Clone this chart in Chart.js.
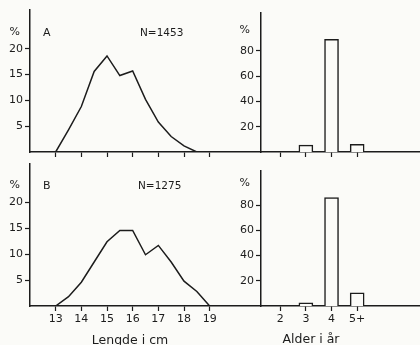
<!DOCTYPE html>
<html>
<head>
<meta charset="utf-8">
<script src="https://cdn.jsdelivr.net/npm/chart.js@4/dist/chart.umd.min.js"></script>
<style>
  body { margin: 0; background: #fbfbf8; }
  #fig { position: relative; width: 420px; height: 345px; overflow: hidden; }
  canvas { position: absolute; }
</style>
</head>
<body>
<div id="fig">
  <canvas id="lenA" width="261" height="165" style="left:0;top:0"></canvas>
  <canvas id="ageA" width="210" height="165" style="left:210px;top:0"></canvas>
  <canvas id="lenB" width="261" height="190" style="left:0;top:155px"></canvas>
  <canvas id="ageB" width="210" height="190" style="left:210px;top:155px"></canvas>
</div>
<script>
// length distribution (percent per half cm)
const lengthCm = [13, 13.5, 14, 14.5, 15, 15.5, 16, 16.5, 17, 17.5, 18, 18.5, 19];
const lengthPctA = [0, 4.3, 8.8, 15.6, 18.6, 14.8, 15.7, 10.2, 5.8, 3.0, 1.2, 0, null];
const lengthPctB = [0, 1.8, 4.6, 8.5, 12.4, 14.6, 14.6, 9.9, 11.7, 8.5, 4.8, 2.8, 0];
const lengthTicks = [13, 14, 15, 16, 17, 18, 19];
const lengthPctTicks = [5, 10, 15, 20];

// age distribution (percent)
const ageX = [2, 3, 4, 5];
const ageLabels = ["2", "3", "4", "5+"];
const agePctA = [0, 5.5, 89.2, 6.1];
const agePctB = [0, 2.6, 86, 10.5];
const agePctTicks = [20, 40, 60, 80];

const ink = "#1c1c1c";
const paper = "#fbfbf8";
const fontFamily = "'DejaVu Sans', sans-serif";

Chart.defaults.font.family = fontFamily;
Chart.defaults.font.size = 11;
Chart.defaults.color = ink;
Chart.defaults.animation = false;

//Free text on a panel: letters, N, % sign and axis captions
const panelText = {
  id: "panelText",
  afterDraw(chart, args, opts) {
    const { ctx, chartArea } = chart;
    ctx.save();
    ctx.fillStyle = ink;
    ctx.textBaseline = "middle";
    (opts.items || []).forEach(t => {
      ctx.font = `${t.size || 11}px ${fontFamily}`;
      ctx.textAlign = t.align || "left";
      ctx.fillText(t.text, chartArea.left + t.dx, chartArea.top + t.dy);
    });
    ctx.restore();
  }
};

const axisStyle = (tickValues) => ({
  offset: false,
  border: { color: ink, width: 1.5 },
  grid: { offset: false, drawOnChartArea: false, color: ink, tickLength: 5, tickWidth: 1.2 },
  afterBuildTicks: axis => { axis.ticks = tickValues.map(v => ({ value: v })); }
});

//Draw the length curve
const drawLengthChart = (id, pct, showLabels, topPad, xHeight, items) => {
  return new Chart(document.getElementById(id), {
    type: "line",
    data: {
      datasets: [{
        data: lengthCm.map((x, i) => ({ x, y: pct[i] })),
        borderColor: ink,
        borderWidth: 1.5,
        pointRadius: 0,
        tension: 0
      }]
    },
    options: {
      responsive: false,
      layout: { padding: { top: topPad, left: 0, right: 0, bottom: 0 } },
      plugins: { legend: { display: false }, tooltip: { enabled: false }, panelText: { items } },
      scales: {
        x: {
          type: "linear", min: 12, max: 21,
          ...axisStyle(lengthTicks),
          ticks: { display: showLabels, padding: 2 },
          afterFit: s => { s.height = xHeight; }
        },
        y: {
          min: 0, max: 27.5,
          ...axisStyle(lengthPctTicks),
          ticks: { padding: 2 },
          afterFit: s => { s.width = 30; }
        }
      }
    },
    plugins: [panelText]
  });
}

//Draw the age bars
const drawAgeChart = (id, pct, yMax, showLabels, topPad, xHeight, items) => {
  return new Chart(document.getElementById(id), {
    type: "bar",
    data: {
      datasets: [{
        data: ageX.map((x, i) => ({ x, y: pct[i] })),
        backgroundColor: paper,
        borderColor: ink,
        borderWidth: 1.5,
        borderSkipped: "bottom",
        barThickness: 14
      }]
    },
    options: {
      responsive: false,
      layout: { padding: { top: topPad, left: 0, right: 0, bottom: 0 } },
      plugins: { legend: { display: false }, tooltip: { enabled: false }, panelText: { items } },
      scales: {
        x: {
          type: "linear", min: 1.25, max: 7.45,
          ...axisStyle(ageX),
          ticks: { display: showLabels, padding: 2, callback: v => ageLabels[ageX.indexOf(v)] },
          afterFit: s => { s.height = xHeight; }
        },
        y: {
          min: 0, max: yMax,
          ...axisStyle(agePctTicks),
          ticks: { padding: 2 },
          afterFit: s => { s.width = 51; }
        }
      }
    },
    plugins: [panelText]
  });
}

drawLengthChart("lenA", lengthPctA, false, 10, 13, [
  { text: "%", dx: -10, dy: 22, align: "right" },
  { text: "A", dx: 13, dy: 23 },
  { text: "N=1453", dx: 110, dy: 23, size: 10.5 }
]);
drawAgeChart("ageA", agePctA, 110, false, 13, 13, [
  { text: "%", dx: -11, dy: 17, align: "right" }
]);
drawLengthChart("lenB", lengthPctB, true, 8, 39, [
  { text: "%", dx: -10, dy: 22, align: "right" },
  { text: "B", dx: 13, dy: 23 },
  { text: "N=1275", dx: 108, dy: 23, size: 10.5 },
  { text: "Lengde i cm", dx: 100, dy: 177, align: "center", size: 12.5 }
]);
drawAgeChart("ageB", agePctB, 107, true, 16, 39, [
  { text: "%", dx: -11, dy: 12, align: "right" },
  { text: "Alder i år", dx: 50, dy: 169, align: "center", size: 12.5 }
]);
</script>
</body>
</html>
